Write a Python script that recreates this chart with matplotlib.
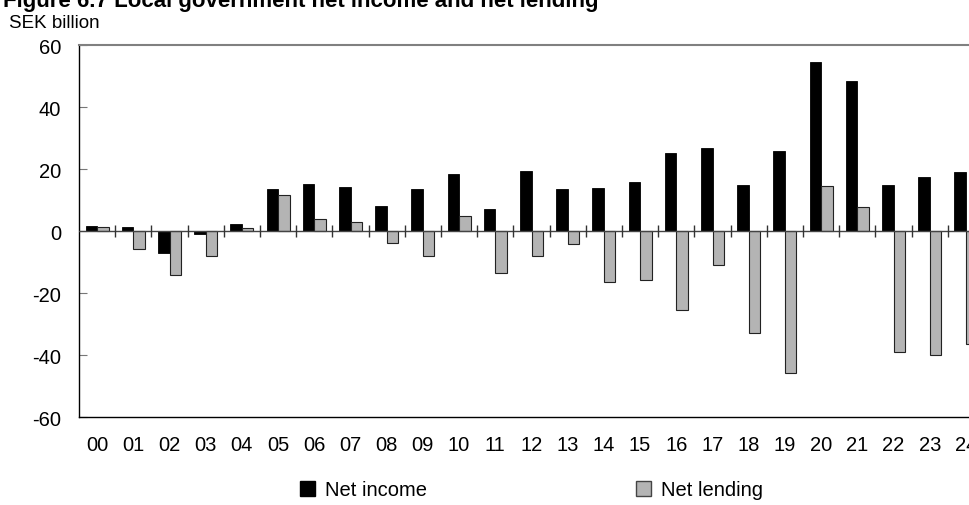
"""Local government net income and net lending, SEK billion."""

import matplotlib

matplotlib.use("Agg")
import matplotlib.pyplot as plt
import numpy as np
from matplotlib.patches import Patch

plt.rcParams["font.family"] = ["Liberation Sans", "DejaVu Sans"]

years = ["00", "01", "02", "03", "04", "05", "06", "07", "08", "09", "10", "11", "12",
         "13", "14", "15", "16", "17", "18", "19", "20", "21", "22", "23", "24"]
net_income = [1.5, 1.4, -7.2, -0.9, 2.3, 13.4, 15.3, 14.1, 8.0, 13.4, 18.5, 7.0, 19.4,
              13.5, 13.9, 15.8, 25.2, 26.7, 14.8, 25.9, 54.6, 48.5, 15.0, 17.4, 18.9]
net_lending = [1.2, -5.8, -14.3, -8.2, 1.1, 11.6, 3.8, 3.0, -4.0, -8.1, 4.9, -13.7, -8.1,
               -4.1, -16.6, -15.9, -25.4, -11.0, -32.9, -45.7, 14.4, 7.8, -38.9, -39.9, -36.6]
yticks = [60, 40, 20, 0, -20, -40, -60]


def main() -> None:
    fig = plt.figure(figsize=(9.69, 5.06), dpi=100)
    # axes runs past the right edge on purpose, the last group is clipped
    ax = fig.add_axes([79 / 969, 1 - 418 / 506, 905 / 969, 372 / 506])

    x = np.arange(len(years))
    w = 0.32
    ax.bar(x - w / 2, net_income, width=w, color="black", edgecolor="black", linewidth=0.6)
    ax.bar(x + w / 2, net_lending, width=w, color="#b4b4b4", edgecolor="#222222", linewidth=0.8)

    ax.set_xlim(-0.5, len(years) - 0.5)
    ax.set_ylim(-60, 60)
    ax.set_yticks(yticks)
    ax.set_yticklabels([str(v) for v in yticks])
    ax.tick_params(axis="y", direction="in", length=6, color="#777777", pad=13, labelsize=14.5)

    ax.set_xticks(x)
    ax.set_xticklabels(years)
    ax.tick_params(axis="x", length=0, pad=13, labelsize=14.5)

    # zero line with small group separators
    ax.axhline(0, color="#444444", linewidth=1.0, zorder=3)
    seps = x[:-1] + 0.5
    ax.plot(seps, np.zeros_like(seps), linestyle="none", marker="|", markersize=9,
            color="#333333", markeredgewidth=1.0, zorder=3, clip_on=False)

    for side in ("left", "bottom"):
        ax.spines[side].set_color("black")
        ax.spines[side].set_linewidth(1.0)
    ax.spines["top"].set_color("#808080")
    ax.spines["top"].set_linewidth(1.5)
    ax.spines["right"].set_visible(False)

    fig.text(3 / 969, 1 - 7 / 506, "Figure 6.7 Local government net income and net lending",
             fontsize=16, fontweight="bold", va="baseline", ha="left")
    fig.text(9 / 969, 1 - 28 / 506, "SEK billion", fontsize=13.5, va="baseline", ha="left")

    leg_kw = dict(loc="center left", frameon=False, fontsize=14.5, handlelength=0.75,
                  handleheight=0.75, handletextpad=0.5, borderpad=0, borderaxespad=0)
    fig.legend(handles=[Patch(facecolor="black", edgecolor="black", label="Net income")],
               bbox_to_anchor=(300 / 969, 1 - 491 / 506), **leg_kw)
    fig.legend(handles=[Patch(facecolor="#b4b4b4", edgecolor="#444444", label="Net lending")],
               bbox_to_anchor=(636 / 969, 1 - 491 / 506), **leg_kw)

    fig.savefig("out.png", dpi=100)


if __name__ == "__main__":
    main()
